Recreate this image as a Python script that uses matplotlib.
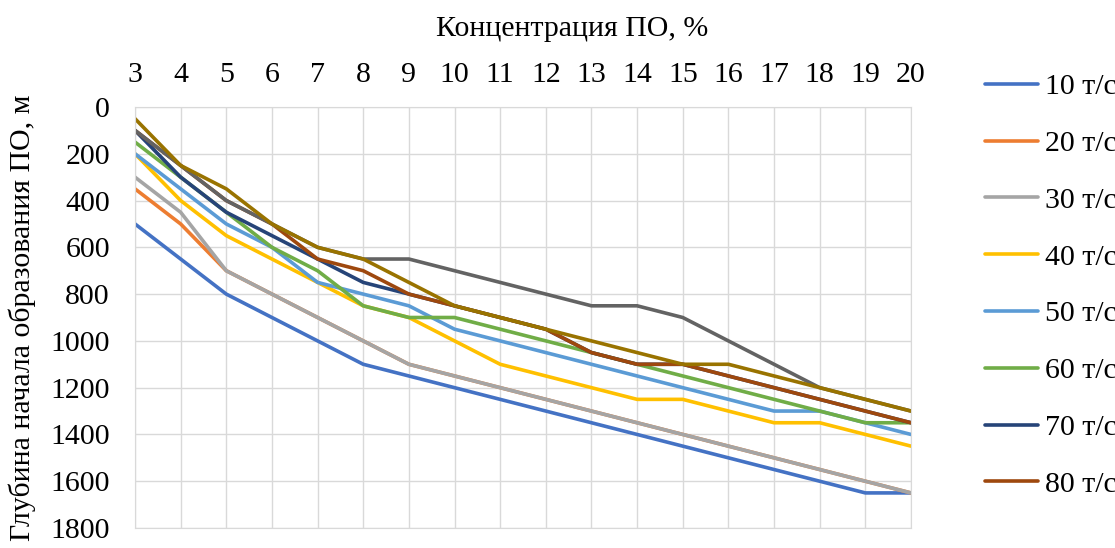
import matplotlib
matplotlib.use('Agg')
import matplotlib.pyplot as plt

plt.rcParams['font.family'] = ['Liberation Serif', 'DejaVu Serif']

# concentration, %
conc = [3, 4, 5, 6, 7, 8, 9, 10, 11, 12, 13, 14, 15, 16, 17, 18, 19, 20]

# depth of onset, m (one list per flow rate)
d10 = [500, 650, 800, 900, 1000, 1100, 1150, 1200, 1250, 1300, 1350, 1400, 1450, 1500, 1550, 1600, 1650, 1650]
d20 = [350, 500, 700, 800, 900, 1000, 1100, 1150, 1200, 1250, 1300, 1350, 1400, 1450, 1500, 1550, 1600, 1650]
d30 = [300, 450, 700, 800, 900, 1000, 1100, 1150, 1200, 1250, 1300, 1350, 1400, 1450, 1500, 1550, 1600, 1650]
d40 = [200, 400, 550, 650, 750, 850, 900, 1000, 1100, 1150, 1200, 1250, 1250, 1300, 1350, 1350, 1400, 1450]
d50 = [200, 350, 500, 600, 750, 800, 850, 950, 1000, 1050, 1100, 1150, 1200, 1250, 1300, 1300, 1350, 1400]
d60 = [150, 300, 450, 600, 700, 850, 900, 900, 950, 1000, 1050, 1100, 1150, 1200, 1250, 1300, 1350, 1350]
d70 = [100, 300, 450, 550, 650, 750, 800, 850, 900, 950, 1050, 1100, 1100, 1150, 1200, 1250, 1300, 1350]
d80 = [100, 250, 400, 500, 650, 700, 800, 850, 900, 950, 1050, 1100, 1100, 1150, 1200, 1250, 1300, 1350]
d90 = [100, 250, 400, 500, 600, 650, 650, 700, 750, 800, 850, 850, 900, 1000, 1100, 1200, 1250, 1300]
d100 = [50, 250, 350, 500, 600, 650, 750, 850, 900, 950, 1000, 1050, 1100, 1100, 1150, 1200, 1250, 1300]

series = [d10, d20, d30, d40, d50, d60, d70, d80, d90, d100]
labels = ['10 т/с', '20 т/с', '30 т/с', '40 т/с', '50 т/с',
          '60 т/с', '70 т/с', '80 т/с', '90 т/с', '100 т/с']
colors = ['#4472C4', '#ED7D31', '#A5A5A5', '#FFC000', '#5B9BD5',
          '#70AD47', '#264478', '#9E480E', '#636363', '#997300']

fs = 21.5

fig = plt.figure(figsize=(11.15, 5.48), dpi=100)
ax = fig.add_axes([135 / 1115, 1 - 528 / 548, (911 - 135) / 1115, (528 - 107) / 548])

lines = []
for ys, lab, c in zip(series, labels, colors):
  ln, = ax.plot(conc, ys, color=c, lw=2.6, label=lab, solid_capstyle='round', solid_joinstyle='round')
  lines.append(ln)

ax.set_xlim(conc[0], conc[-1])
ax.set_ylim(1800, 0)
ax.set_xticks(conc)
ax.set_yticks(range(0, 1801, 200))
ax.xaxis.tick_top()
ax.xaxis.set_label_position('top')
ax.tick_params(length=0, labelsize=fs)
ax.tick_params(axis='y', pad=18)
ax.tick_params(axis='x', pad=14)
ax.grid(True, color='#D9D9D9', lw=1)
ax.set_axisbelow(True)
for s in ax.spines.values():
  s.set_color('#D9D9D9')

ax.set_xlabel('Концентрация ПО, %', fontsize=fs, labelpad=18.5)
ax.xaxis.label.set_x(0.563)  # title sits a bit right of the plot centre
ax.set_ylabel('Глубина начала образования ПО, м', fontsize=fs, labelpad=10)

# legend only shows first 8 entries (the rest are cut off in the original)
fig.legend(lines[:8], labels[:8], loc='upper left', bbox_to_anchor=(985 / 1115, 1 - 73.5 / 548),
           frameon=False, fontsize=fs, handlelength=1.77, handletextpad=0.23,
           labelspacing=1.0, borderpad=0, borderaxespad=0)

fig.savefig('out.png', dpi=100)
